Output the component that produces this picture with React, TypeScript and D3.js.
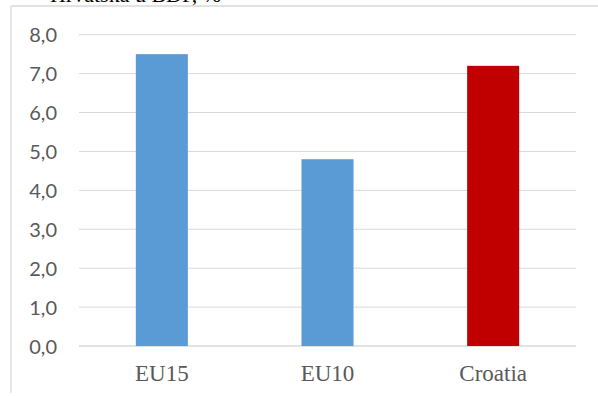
import React from "react";
import * as d3 from "d3";

const categories = ["EU15", "EU10", "Croatia"];
const values = [7.5, 4.8, 7.2];
const barColors = ["#5B9BD5", "#5B9BD5", "#C00000"];
const yTicks = [0, 1, 2, 3, 4, 5, 6, 7, 8];
const titleText = "Hrvatska u BDP, %";

const W = 598;
const H = 396;
const plot = { left: 79, right: 576, top: 34.7, bottom: 346 };

export default function App() {
  const x = d3
    .scaleBand<string>()
    .domain(categories)
    .range([plot.left, plot.right])
    .paddingInner(0.686)
    .paddingOuter(0.343);
  const y = d3.scaleLinear().domain([0, 8]).range([plot.bottom, plot.top]);
  const fmt = (v: number) => d3.format(".1f")(v).replace(".", ",");

  return (
    <svg
      width={W}
      height={H}
      style={{ position: "absolute", left: 0, top: 0, background: "#fff" }}
    >
      <text
        x={50}
        y={2}
        fontFamily="Liberation Serif"
        fontSize={22}
        fill="#000"
      >
        {titleText}
      </text>
      {/* chart frame */}
      <line x1={11} x2={W} y1={6} y2={6} stroke="#d9d9d9" strokeWidth={1.3} />
      <line x1={11} x2={11} y1={6} y2={393} stroke="#d9d9d9" strokeWidth={1.3} />
      {yTicks.map((t) => (
        <g key={t}>
          <line
            x1={plot.left}
            x2={plot.right}
            y1={y(t)}
            y2={y(t)}
            stroke="#d9d9d9"
            strokeWidth={t === 0 ? 1.5 : 1}
          />
          <text
            x={57}
            y={y(t) + 7.5}
            textAnchor="end"
            fontFamily="Lato"
            fontSize={20}
            fill="#595959"
          >
            {fmt(t)}
          </text>
        </g>
      ))}
      {categories.map((c, i) => (
        <rect
          key={c}
          x={x(c)}
          width={x.bandwidth()}
          y={y(values[i])}
          height={y(0) - y(values[i])}
          fill={barColors[i]}
        />
      ))}
      {categories.map((c) => (
        <text
          key={c}
          x={(x(c) as number) + x.bandwidth() / 2}
          y={381}
          textAnchor="middle"
          fontFamily="Liberation Serif"
          fontSize={23}
          fill="#595959"
        >
          {c}
        </text>
      ))}
    </svg>
  );
}
